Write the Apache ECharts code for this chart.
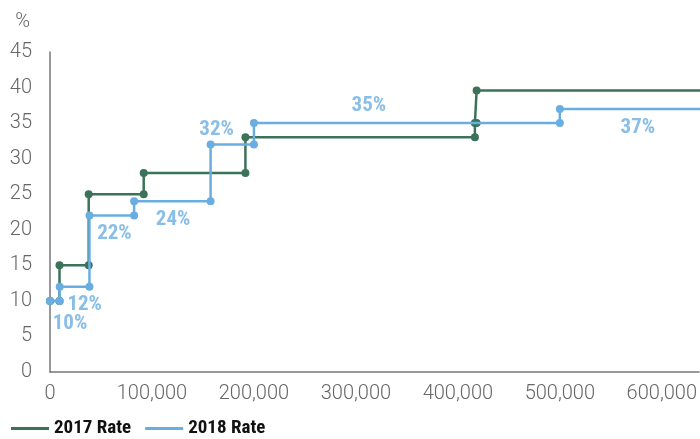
<!DOCTYPE html>
<html>
<head>
<meta charset="utf-8">
<script src="https://cdn.jsdelivr.net/npm/echarts@6/dist/echarts.min.js"></script>
<style>html,body{margin:0;padding:0;background:#fff}#c{width:700px;height:439px}</style>
</head>
<body>
<div id="c"></div>
<script>
// Bracket thresholds (income, $) and rates (%)
var thresholds2017 = [0, 9325, 37950, 91900, 191650, 416700, 418400];
var rates2017 = [10, 15, 25, 28, 33, 35, 39.6];
var thresholds2018 = [0, 9525, 38700, 82500, 157500, 200000, 500000];
var rates2018 = [10, 12, 22, 24, 32, 35, 37];
var rateLabels2018 = ['10%', '12%', '22%', '24%', '32%', '35%', '37%'];
var xTickLabels = ['0', '100,000', '200,000', '300,000', '400,000', '500,000', '600,000'];
var yTickLabels = ['0', '5', '10', '15', '20', '25', '30', '35', '40', '45'];

var X_MAX = 636500;
var X_END = 700000;

function stepPoints(th, rates) {
  var pts = [];
  for (var i = 0; i < th.length; i++) {
    var next = i + 1 < th.length ? th[i + 1] : X_END;
    pts.push({value: [th[i], rates[i]]});
    var last = i + 1 >= th.length;
    pts.push({value: [next, rates[i]], symbol: last ? 'none' : 'circle'});
  }
  return pts;
}

// pixel offsets of each rate label relative to bracket start (style only)
var labelOffsets = [[20, 23], [25, 18], [25, 18], [39, 18], [6, -15], [115, -17], [78, 19]];

var green = '#3b735a';
var blue = '#6aaee1';
var axisFont = {fontFamily: 'Roboto', fontWeight: 300, fontSize: 20, color: '#666'};
var condensed = '"Liberation Sans Narrow", "Roboto Condensed", Roboto';

var chart = echarts.init(document.getElementById('c'));
chart.setOption({
  animation: false,
  grid: {left: 50, right: 0, top: 52, bottom: 67, containLabel: false},
  legend: {
    left: 6, bottom: -4, itemWidth: 38, itemHeight: 3, itemGap: 14,
    icon: 'rect',
    textStyle: {fontFamily: condensed, fontWeight: 'bold', fontSize: 19, color: '#111'},
    data: [{name: '2017 Rate', icon: 'rect'}, {name: '2018 Rate', icon: 'rect'}]
  },
  xAxis: {
    type: 'value', min: 0, max: X_MAX, interval: 100000,
    axisLine: {show: true, onZero: false, lineStyle: {color: '#777', width: 1.5}},
    axisTick: {show: false},
    splitLine: {show: false},
    axisLabel: Object.assign({
      showMaxLabel: false, margin: 12,
      formatter: function (v) { var i = Math.round(v / 100000); return (v % 100000 === 0 && xTickLabels[i] !== undefined) ? xTickLabels[i] : ''; }
    }, axisFont)
  },
  yAxis: {
    type: 'value', min: 0, max: 45, interval: 5,
    name: '%', nameLocation: 'end', nameGap: 20,
    nameTextStyle: Object.assign({align: 'right', padding: [0, 20, 0, 0]}, axisFont),
    axisLine: {show: true, lineStyle: {color: '#777', width: 1.5}},
    axisTick: {show: false},
    splitLine: {show: false},
    axisLabel: Object.assign({
      margin: 18,
      formatter: function (v) { return yTickLabels[Math.round(v / 5)]; }
    }, axisFont)
  },
  series: [
    {
      name: '2017 Rate', type: 'line', data: stepPoints(thresholds2017, rates2017),
      symbol: 'circle', symbolSize: 8, showSymbol: true, clip: true,
      lineStyle: {color: green, width: 2.5}, itemStyle: {color: green}, z: 2
    },
    {
      name: '2018 Rate', type: 'line', data: stepPoints(thresholds2018, rates2018),
      symbol: 'circle', symbolSize: 8, showSymbol: true, clip: true,
      lineStyle: {color: blue, width: 2.5}, itemStyle: {color: blue}, z: 3
    },
    {
      name: 'labels', type: 'scatter', symbolSize: 0, silent: true, z: 4,
      data: thresholds2018.map(function (t, i) {
        return {
          value: [t, rates2018[i]],
          label: {
            show: true, position: 'inside', offset: labelOffsets[i],
            formatter: rateLabels2018[i],
            fontFamily: condensed, fontWeight: 'bold', fontSize: 21, color: blue
          }
        };
      })
    }
  ]
});
</script>
</body>
</html>
